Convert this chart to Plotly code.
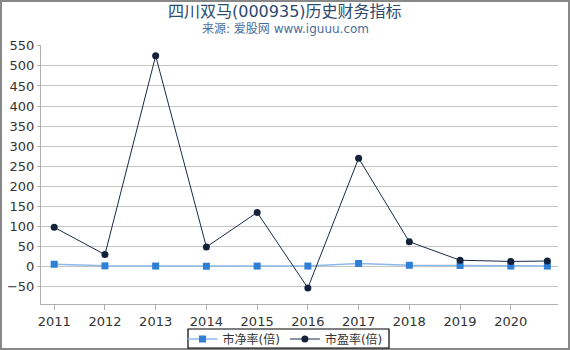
import plotly.graph_objects as go

years = [2011, 2012, 2013, 2014, 2015, 2016, 2017, 2018, 2019, 2020, 2020.72]
tick_vals = [2011, 2012, 2013, 2014, 2015, 2016, 2017, 2018, 2019, 2020]
tick_text = ["2011", "2012", "2013", "2014", "2015", "2016", "2017", "2018", "2019", "2020"]
pb = [6, 2, 1.5, 1, 1.5, 1.5, 8, 3.5, 3, 1.5, 1.5]
pe = [98, 30, 525, 49, 135, -53, 270, 62, 16, 13, 14]
y_ticks = list(range(-50, 551, 50))

W, H = 570, 350
L, R, T, B = 41, 12, 45, 46
PW, PH = W - L - R, H - T - B
FONT = "DejaVu Sans, Noto Sans CJK SC, sans-serif"


def px_x(x):
    return (x - L) / PW


def px_y(y):
    return (H - B - y) / PH


fig = go.Figure()
fig.add_trace(go.Scatter(
    x=years, y=pb, name="市净率(倍)", mode="lines+markers",
    line=dict(color="#8db8e8", width=1.5),
    marker=dict(symbol="square", size=7, color="#2f7fd6"),
))
fig.add_trace(go.Scatter(
    x=years, y=pe, name="市盈率(倍)", mode="lines+markers",
    line=dict(color="#1b2a44", width=1),
    marker=dict(symbol="circle", size=7, color="#13213a"),
))

fig.update_layout(
    width=W, height=H,
    margin=dict(l=L, r=R, t=T, b=B, autoexpand=False),
    paper_bgcolor="white", plot_bgcolor="white",
    font=dict(family=FONT, color="#333333", size=13),
    showlegend=True,
    legend=dict(
        orientation="h", xref="container", yref="container",
        x=0.5, xanchor="center", y=(350 - 339) / 350, yanchor="middle",
        borderwidth=0, bgcolor="rgba(0,0,0,0)", font=dict(size=12, color="#333333"),
        tracegroupgap=0, itemwidth=30,
    ),
    xaxis=dict(
        range=[2010.74, 2020.93], tickmode="array", tickvals=tick_vals, ticktext=tick_text,
        showgrid=False, showline=True, linecolor="#b0b0b0", linewidth=1,
        ticks="outside", ticklen=5, tickcolor="#b0b0b0", zeroline=False,
        tickfont=dict(size=13, color="#333333"),
    ),
    yaxis=dict(
        range=[-93, 552], tickmode="array", tickvals=y_ticks,
        showgrid=True, gridcolor="#c4c4c4", gridwidth=1,
        showline=True, linecolor="#b0b0b0", linewidth=1,
        ticks="outside", ticklen=3, tickcolor="#b0b0b0", zeroline=False,
        tickfont=dict(size=13, color="#333333"),
    ),
    annotations=[
        dict(text="四川双马(000935)历史财务指标", xref="paper", yref="paper",
             x=px_x(W / 2), y=px_y(11), xanchor="center", yanchor="middle",
             showarrow=False, font=dict(size=16, color="#2b4a70", family=FONT)),
        dict(text="来源: 爱股网 www.iguuu.com", xref="paper", yref="paper",
             x=px_x(W / 2), y=px_y(29), xanchor="center", yanchor="middle",
             showarrow=False, font=dict(size=12, color="#4a6e9e", family=FONT)),
    ],
    shapes=[
        dict(type="rect", xref="paper", yref="paper",
             x0=px_x(1), x1=px_x(W - 1), y0=px_y(H - 1), y1=px_y(1),
             line=dict(color="#888888", width=2), fillcolor="rgba(0,0,0,0)", layer="above"),
        dict(type="rect", xref="paper", yref="paper",
             x0=px_x(188), x1=px_x(389), y0=px_y(348), y1=px_y(329),
             line=dict(color="#000000", width=1.2), fillcolor="rgba(0,0,0,0)", layer="above"),
    ],
)

fig.write_html("out.html")
